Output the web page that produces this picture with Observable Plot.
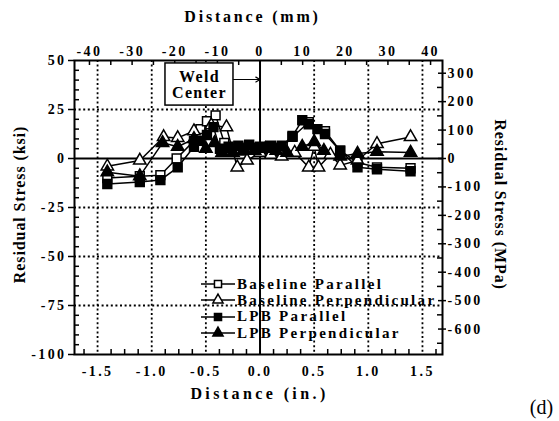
<!DOCTYPE html>
<html><head><meta charset="utf-8">
<script src="https://cdn.jsdelivr.net/npm/d3@7"></script>
<script src="https://cdn.jsdelivr.net/npm/@observablehq/plot@0.6"></script>
<style>
body{margin:0;background:#fff;}
#wrap{position:relative;width:559px;height:421px;}
#wrap svg text{letter-spacing:2.4px;}
#wrap svg g.ttl text{letter-spacing:2.8px;}
#wrap svg g.ttl2 text{letter-spacing:3.4px;}
#wrap svg g.ttl3 text{letter-spacing:0.9px;}
#wrap svg g.dd text{letter-spacing:0;}
#wrap svg g.weld text{letter-spacing:1.3px;}
#legend{position:absolute;left:198px;top:276px;font-family:"Liberation Serif",serif;font-weight:bold;font-size:15px;letter-spacing:2.3px;color:#000;}
#legend .row{display:flex;align-items:center;height:16.3px;white-space:nowrap;}
#legend svg{display:block;margin-right:1px;}
</style></head><body><div id="wrap"><div id="legend"></div></div>
<script>
// ---- data (x in inches, y in ksi) ----
const seriesNames = ["Baseline Parallel", "Baseline Perpendicular", "LPB Parallel", "LPB Perpendicular"];
const bparX = [-1.41,-1.11,-0.92,-0.77,-0.61,-0.55,-0.49,-0.41,-0.33,-0.24,-0.15,-0.06,0.03,0.12,0.21,0.30,0.45,0.60,0.74,0.90,1.08,1.39];
const bparY = [-10,-9,-8.5,0,9,15,19,22,8,5,4,5,5,5,6,11,18.5,14,4,-2,-4.5,-5];
const bperX = [-1.41,-1.11,-0.89,-0.76,-0.61,-0.45,-0.31,-0.21,-0.12,0.0,0.1,0.2,0.32,0.45,0.50,0.54,0.65,0.74,0.90,1.08,1.39];
const bperY = [-4,-1,11,10.5,14,17,16,-4.5,-1,3,2,1,3,-4.5,6,-4.5,2,-3.5,-1,7.5,11];
const lparX = [-1.41,-1.11,-0.92,-0.76,-0.61,-0.55,-0.49,-0.43,-0.37,-0.29,-0.2,-0.1,0.0,0.1,0.2,0.3,0.39,0.45,0.53,0.6,0.74,0.9,1.08,1.39];
const lparY = [-13,-12,-11,-4.5,6,9,12,16,5,6,6.5,7,6,6.5,6.5,11.5,19.5,17.5,15,12.5,4,-4.5,-5.5,-6.5];
const lperX = [-1.41,-1.11,-0.90,-0.76,-0.61,-0.50,-0.42,-0.35,-0.25,-0.15,-0.05,0.05,0.15,0.25,0.39,0.50,0.59,0.74,0.90,1.08,1.39];
const lperY = [-7,-9,8,6,10,5,8,3,3,4,4,5,4,3,6,8.5,4,1,2.5,3.5,3];

const xTicks = [-1.5,-1.0,-0.5,0,0.5,1.0,1.5];
const yTicks = [50,25,0,-25,-50,-75,-100];
const mmTicks = [-40,-30,-20,-10,0,10,20,30,40];
const mpaTicks = [300,200,100,0,-100,-200,-300,-400,-500,-600];
const weldLabel = ["Weld", "Center"];
const weldBox = {x1: -0.873, x2: -0.245, y1: 27, y2: 48.5, arrowY: 40.3};

// ---- build table ----
const sets = [[bparX,bparY],[bperX,bperY],[lparX,lparY],[lperX,lperY]];
const styles = [
  {symbol:"square", fill:"white", r:5},
  {symbol:"triangle", fill:"white", r:4.6},
  {symbol:"square", fill:"black", r:5},
  {symbol:"triangle", fill:"black", r:4.6}
];
const tables = sets.map(([X,Y],i) => X.map((x,j) => ({x, y: Y[j], s: seriesNames[i]})));

const MM = 25.4, MPA = 6.895;
const fmtNum = d => (d < 0 ? "-" : "") + Math.abs(d);
const fmtIn = d => (d < 0 ? "-" : "") + Math.abs(d).toFixed(1);
const minorX = d3.range(-1.625, 1.626, 0.125).filter(v => Math.abs(v*2 - Math.round(v*2)) > 1e-6);
const minorMM = d3.range(-40, 41, 5).filter(v => v % 10 !== 0).map(v => v/MM);
const minorY = d3.range(-95, 50, 5).filter(v => v % 25 !== 0);
const minorMPa = d3.range(-650, 351, 50).filter(v => v % 100 !== 0).map(v => v/MPA).filter(v => v > -100 && v < 50);

const mL = 74, mR = 117, mT = 60, mB = 67;
const W = 559, H = 421, PW = W - mL - mR, PH = H - mT - mB;

const marks = [
  Plot.ruleX(xTicks.filter(d => d !== 0), {stroke:"black", strokeWidth:1.8, strokeDasharray:"2,2.6"}),
  Plot.ruleY(yTicks.filter(d => d !== 0 && d !== 50 && d !== -100), {stroke:"black", strokeWidth:1.8, strokeDasharray:"2,2.6"}),
  Plot.ruleX([0], {stroke:"black", strokeWidth:2}),
  Plot.ruleY([0], {stroke:"black", strokeWidth:2}),
  // minor ticks (inward)
  Plot.ruleX(minorX, {stroke:"black", strokeWidth:1.5, insetTop: PH - 5}),
  Plot.ruleX(minorMM, {stroke:"black", strokeWidth:1.5, insetBottom: PH - 5}),
  Plot.ruleX(mmTicks.map(v => v/MM), {stroke:"black", strokeWidth:1.5, insetBottom: PH - 5}),
  Plot.ruleY(minorY, {stroke:"black", strokeWidth:1.5, insetRight: PW - 5}),
  Plot.ruleY(minorMPa, {stroke:"black", strokeWidth:1.5, insetLeft: PW - 5}),
  Plot.ruleY(mpaTicks.map(v => v/MPA), {stroke:"black", strokeWidth:1.5, insetLeft: PW - 4}),
  Plot.frame({stroke:"black", strokeWidth:2}),
  Plot.axisX({anchor:"bottom", ticks: xTicks, tickSize: 0, tickPadding: 12, tickFormat: fmtIn, label: null, fontSize: 14}),
  Plot.axisX({anchor:"top", ticks: mmTicks.map(v => v/MM), tickSize: 0, tickPadding: 5, tickFormat: d => fmtNum(Math.round(d*MM)), label: null, fontSize: 14}),
  Plot.axisY({anchor:"left", ticks: yTicks, tickSize: 6, tickPadding: 2, strokeWidth: 1.5, tickFormat: fmtNum, label: null, fontSize: 14}),
  Plot.axisY({anchor:"right", ticks: mpaTicks.map(v => v/MPA), tickSize: 3, tickPadding: 2, strokeWidth: 1.5, tickFormat: d => fmtNum(Math.round(d*MPA)), label: null, fontSize: 14}),
  // axis titles
  Plot.text(["Distance (mm)"], {frameAnchor:"top", lineAnchor:"middle", textAnchor:"middle", dy: -44, dx: -6, fontSize: 16, fontWeight:"bold", className:"ttl"}),
  Plot.text(["Distance (in.)"], {frameAnchor:"bottom", lineAnchor:"middle", textAnchor:"middle", dy: 39, dx: 1, fontSize: 16, fontWeight:"bold", className:"ttl2"}),
  Plot.text(["Residual Stress (ksi)"], {frameAnchor:"left", lineAnchor:"middle", textAnchor:"middle", dx: -55, dy: -3, rotate: -90, fontSize: 16, fontWeight:"bold", className:"ttl3"}),
  Plot.text(["Residual Stress (MPa)"], {frameAnchor:"right", lineAnchor:"middle", textAnchor:"middle", dx: 58, dy: -3, rotate: 90, fontSize: 16, fontWeight:"bold", className:"ttl3"}),
  Plot.text(["(d)"], {frameAnchor:"bottom-right", lineAnchor:"middle", textAnchor:"middle", dx: 99, dy: 53, fontSize: 20, fontWeight:"normal", className:"dd"}),
  // weld center annotation
  Plot.rect([weldBox], {x1:"x1", x2:"x2", y1:"y1", y2:"y2", fill:"white", stroke:"black", strokeWidth:1.5}),
  Plot.text([weldLabel.join("\n")], {x: (weldBox.x1+weldBox.x2)/2, y: (weldBox.y1+weldBox.y2)/2, fontSize: 16, fontWeight:"bold", lineHeight: 1.0, className:"weld"}),
  Plot.arrow([weldBox], {x1:"x2", x2: () => 0, y1:"arrowY", y2:"arrowY", stroke:"black", strokeWidth:1.2, headLength: 6, bend: 0}),
];
tables.forEach((t,i) => {
  marks.push(Plot.line(t, {x:"x", y:"y", stroke:"black", strokeWidth:1.5}));
});
tables.forEach((t,i) => {
  const st = styles[i];
  marks.push(Plot.dot(t, {x:"x", y:"y", symbol: () => st.symbol, r: st.r, fill: st.fill, stroke:"black", strokeWidth:1.5}));
});

const chart = Plot.plot({
  width: W, height: H,
  marginLeft: mL, marginRight: mR, marginTop: mT, marginBottom: mB,
  x: {domain: [-1.713, 1.685]},
  y: {domain: [-100, 50]},
  symbol: {type: "identity"},
  style: {fontFamily: '"Liberation Serif", serif', fontWeight: "bold", fontSize: "14px", color: "black", background: "white"},
  marks
});
document.getElementById("wrap").prepend(chart);

// ---- legend ----
const leg = document.getElementById("legend");
seriesNames.forEach((name, i) => {
  const st = styles[i];
  const row = document.createElement("div");
  row.className = "row";
  const s = d3.create("svg").attr("width", 38).attr("height", 16);
  s.append("line").attr("x1", 3).attr("x2", 37).attr("y1", 8).attr("y2", 8).attr("stroke","black").attr("stroke-width",1.5);
  const sym = st.symbol === "square" ? d3.symbolSquare : d3.symbolTriangle;
  s.append("path").attr("transform","translate(20,8)").attr("d", d3.symbol(sym, st.symbol === "square" ? 50 : 45)())
    .attr("fill", st.fill).attr("stroke","black").attr("stroke-width",1.5);
  row.appendChild(s.node());
  const sp = document.createElement("span");
  sp.textContent = name;
  row.appendChild(sp);
  leg.appendChild(row);
});
</script>
</body></html>
